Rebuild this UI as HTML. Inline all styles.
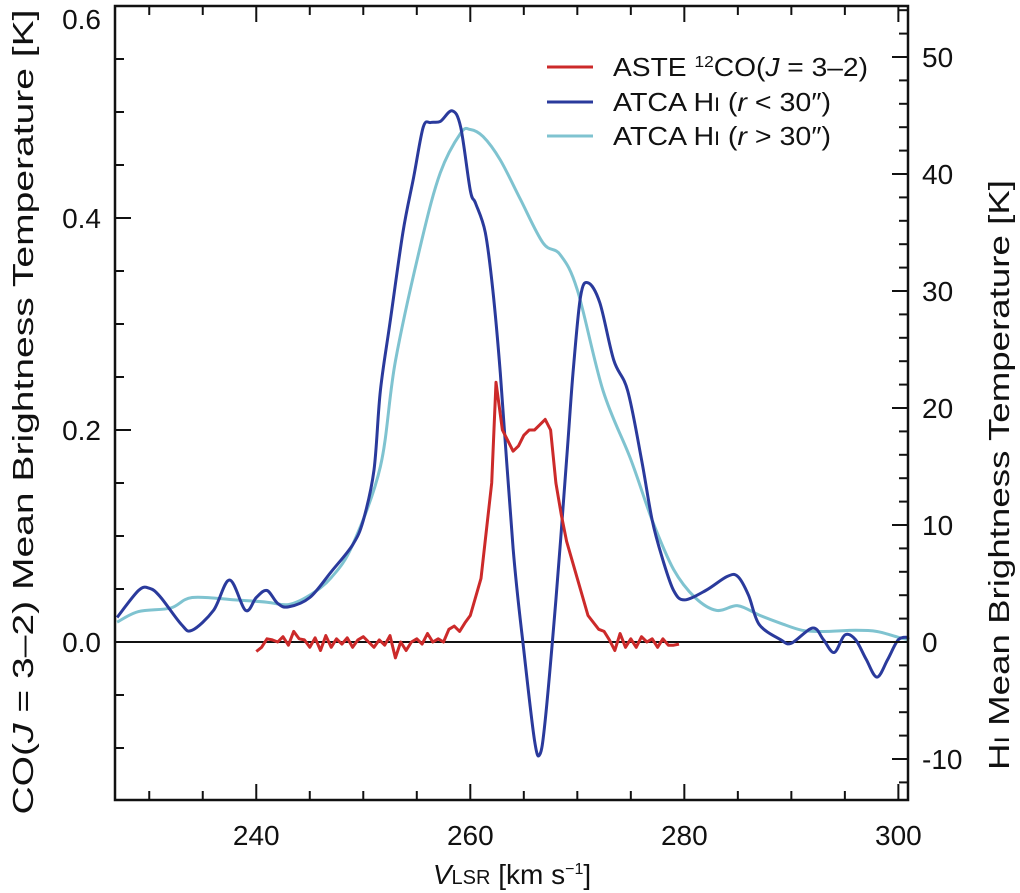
<!DOCTYPE html>
<html><head><meta charset="utf-8"><style>
body{margin:0;background:#fff;}
svg{display:block;font-family:"Liberation Sans",sans-serif;}
</style></head><body>
<svg id="chart" width="1020" height="893" viewBox="0 0 1020 893" xmlns="http://www.w3.org/2000/svg">
<g id="marks"></g>
<g id="axes"></g>
<g font-size="26" fill="#111">
<line x1="547" y1="67" x2="593" y2="67" stroke="#cc2a2a" stroke-width="3"/>
<text x="613" y="76" textLength="255" lengthAdjust="spacingAndGlyphs">ASTE <tspan font-size="16" dy="-9">12</tspan><tspan dy="9">CO(</tspan><tspan font-style="italic">J</tspan> = 3–2)</text>
<line x1="547" y1="102" x2="593" y2="102" stroke="#2a3a9c" stroke-width="3"/>
<text x="613" y="111" textLength="218" lengthAdjust="spacingAndGlyphs">ATCA H<tspan font-size="19">I</tspan> (<tspan font-style="italic">r</tspan> &lt; 30″)</text>
<line x1="547" y1="136" x2="593" y2="136" stroke="#7fc3d0" stroke-width="3"/>
<text x="613" y="145" textLength="218" lengthAdjust="spacingAndGlyphs">ATCA H<tspan font-size="19">I</tspan> (<tspan font-style="italic">r</tspan> &gt; 30″)</text>
</g>
<text x="512" y="884" font-size="28" text-anchor="middle" fill="#111"><tspan font-style="italic">V</tspan><tspan font-size="20">LSR</tspan> [km s<tspan font-size="16" dy="-10">−1</tspan><tspan dy="10">]</tspan></text>
<text transform="translate(33,412) rotate(-90)" font-size="29" text-anchor="middle" fill="#111" textLength="805" lengthAdjust="spacingAndGlyphs">CO(<tspan font-style="italic">J</tspan> = 3–2) Mean Brightness Temperature [K]</text>
<text transform="translate(1009,475) rotate(-90)" font-size="29" text-anchor="middle" fill="#111" textLength="590" lengthAdjust="spacingAndGlyphs">H<tspan font-size="21">I</tspan> Mean Brightness Temperature [K]</text>
</svg>
<script>
const hiInnerV = [227,229,230,231,233,234,236,237.5,239,240,241,242,243,245,247,249,250,251,251.6,252.5,253.7,254.7,255.6,256.3,257.2,258.3,259.1,260,260.5,261.4,262.1,262.8,264,265,266,266.5,267,268,269,269.6,270.3,271,272.1,273.4,274.7,276,277,278,279,280,282,284,285,286,287,289,290,292,293,294,295,296,297,298,299,300,301];
const hiInnerT = [2.1,4.4,4.6,3.9,1.5,1.0,2.7,5.3,2.7,3.8,4.4,3.3,3.0,3.8,6.0,8.3,10.4,14.7,21.5,27.3,35.0,39.7,44.0,44.4,44.5,45.4,44.0,38.6,37.5,35.0,30.1,23.0,8.0,-0.7,-8.4,-9.6,-6.7,3.6,15.6,23.0,29.5,30.7,29.0,24.1,21.5,15.6,10.4,7.0,4.4,3.6,4.4,5.6,5.6,4.0,1.5,0.2,-0.1,1.2,0.2,-0.9,0.6,0.2,-1.5,-3.0,-1.5,0.2,0.4];
const hiOuterV = [227,229,232,234,238,241,243,245,247,249,251.6,253,255.4,257.2,259.1,260,261.2,262.8,264.7,266.8,268.4,270,272.4,275,277,279,281,283,285,287,289,291,293,296,298,300,301];
const hiOuterT = [1.7,2.6,2.9,3.8,3.6,3.4,3.2,4.0,5.5,8.3,15.0,24.0,34.1,40.1,43.5,43.8,43.2,41.2,37.8,34.1,33.1,30.1,21.5,15.6,10.4,6.2,3.8,2.7,3.1,2.3,1.6,1.0,0.9,1.0,0.9,0.4,0.2];
const coV = [240,240.5,241,241.5,242,242.5,243,243.5,244,244.5,245,245.5,246,246.5,247,247.5,248,248.5,249,249.5,250,250.5,251,251.5,252,252.5,253,253.5,254,254.5,255,255.5,256,256.5,257,257.5,258,258.5,259,259.5,260,261,262,262.4,263,263.5,264,264.5,265,265.5,266,266.5,267,267.5,268,268.5,269,270,271,272,272.5,273,273.5,274,274.5,275,275.5,276,276.5,277,277.5,278,278.5,279,279.5];
const coT = [-0.009,-0.005,0.003,0.002,0.0,0.005,-0.003,0.01,0.003,0.002,-0.005,0.004,-0.008,0.006,-0.005,0.003,-0.002,0.004,-0.005,0.002,0.005,0.0,-0.005,0.002,-0.003,0.006,-0.015,0.0,-0.008,0.0,0.003,-0.002,0.008,0.0,0.003,0.0,0.012,0.015,0.01,0.018,0.025,0.06,0.15,0.245,0.2,0.19,0.18,0.185,0.195,0.2,0.2,0.205,0.21,0.2,0.15,0.12,0.095,0.06,0.025,0.012,0.01,0.002,-0.008,0.008,-0.005,0.003,-0.005,0.005,0.0,0.003,-0.005,0.003,-0.003,-0.003,-0.002];
const xTicks = [240,260,280,300];
const leftTicks = [0.0,0.2,0.4,0.6];
const rightTicks = [-10,0,10,20,30,40,50];

const L=115,R=908,T=6,B=800;
const xMin=226.8,xMax=300.9;
const X=v=>L+(v-xMin)/(xMax-xMin)*(R-L);
const YL=t=>642-t*1060;
const YR=t=>642-t*11.7;
const NS='http://www.w3.org/2000/svg';
const marks=document.getElementById('marks'), axes=document.getElementById('axes');
function mk(tag,attrs,parent){const e=document.createElementNS(NS,tag);for(const k in attrs)e.setAttribute(k,attrs[k]);parent.appendChild(e);return e;}
function smoothPath(pts){
  let d='M'+pts[0][0].toFixed(1)+','+pts[0][1].toFixed(1);
  for(let i=0;i<pts.length-1;i++){
    const p0=pts[Math.max(0,i-1)],p1=pts[i],p2=pts[i+1],p3=pts[Math.min(pts.length-1,i+2)];
    const c1=[p1[0]+(p2[0]-p0[0])/6,p1[1]+(p2[1]-p0[1])/6];
    const c2=[p2[0]-(p3[0]-p1[0])/6,p2[1]-(p3[1]-p1[1])/6];
    d+=' C'+c1[0].toFixed(1)+','+c1[1].toFixed(1)+' '+c2[0].toFixed(1)+','+c2[1].toFixed(1)+' '+p2[0].toFixed(1)+','+p2[1].toFixed(1);
  }
  return d;
}
function curve(vs,ts,fy,color,name){
  const p=mk('path',{d:smoothPath(vs.map((v,i)=>[X(v),fy(ts[i])])),fill:'none',stroke:color,'stroke-width':3,'stroke-linejoin':'round'},marks);
  
  
}
function line(vs,ts,fy,color,name){
  const p=mk('polyline',{points:vs.map((v,i)=>X(v).toFixed(1)+','+fy(ts[i]).toFixed(1)).join(' '),fill:'none',stroke:color,'stroke-width':3,'stroke-linejoin':'round'},marks);
  
  
}
const zl=mk('line',{x1:L,x2:R,y1:YL(0),y2:YL(0),stroke:'#111','stroke-width':2},marks);


curve(hiOuterV,hiOuterT,YR,'#7fc3d0','series-hi-outer');
curve(hiInnerV,hiInnerT,YR,'#2a3a9c','series-hi-inner');
line(coV,coT,YL,'#cc2a2a','series-co');
const fr=mk('rect',{x:L,y:T,width:R-L,height:B-T,fill:'none',stroke:'#111','stroke-width':2.5},axes);


for(let v=230;v<=300;v+=5){const maj=v%20===0;const x=X(v);
  mk('line',{x1:x,x2:x,y1:B,y2:B-(maj?16:9),stroke:'#111','stroke-width':2},axes);
  mk('line',{x1:x,x2:x,y1:T,y2:T+(maj?16:9),stroke:'#111','stroke-width':2},axes);}
for(const v of xTicks){const t=mk('text',{x:X(v),y:B+45,'font-size':28,'text-anchor':'middle',fill:'#111'},axes);t.textContent=v;
  
  }
for(let i=-3;i<=12;i++){const t=i*0.05;const y=YL(t);if(y<T||y>B)continue;const maj=i%4===0;
  mk('line',{x1:L,x2:L+(maj?16:9),y1:y,y2:y,stroke:'#111','stroke-width':2},axes);}
for(const t of leftTicks){const y=Math.max(YL(t)+10,29);const e=mk('text',{x:L-14,y:y,'font-size':28,'text-anchor':'end',fill:'#111'},axes);e.textContent=t.toFixed(1);
  
  }
for(let k=-12;k<=54;k+=2){const y=YR(k);if(y<T||y>B)continue;const maj=k%10===0;
  mk('line',{x1:R,x2:R-(maj?16:9),y1:y,y2:y,stroke:'#111','stroke-width':2},axes);}
for(const t of rightTicks){const e=mk('text',{x:R+14,y:YR(t)+10,'font-size':28,'text-anchor':'start',fill:'#111'},axes);e.textContent=t;
  
  }
</script>
</body></html>
